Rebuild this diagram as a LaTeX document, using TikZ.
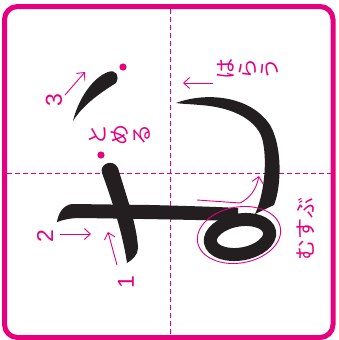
\documentclass[tikz,border=0pt]{standalone}
\usepackage{fontspec}
\setmainfont{Liberation Sans}
\newfontfamily\jpfont{Noto Sans CJK JP}
\usetikzlibrary{arrows.meta}
\definecolor{pk}{RGB}{230,0,126}
\definecolor{ink}{RGB}{35,31,32}
\begin{document}
\begin{tikzpicture}[x=1pt,y=-1pt,
  frame/.style={draw=pk,line width=5pt,rounded corners=13pt},
  guide/.style={draw=pk,line width=1pt,dash pattern=on 5pt off 3pt},
  brush/.style={fill=ink,draw=none},
  ring/.style={draw=ink,line width=13pt},
  hint/.style={draw=pk,line width=0.9pt},
  harrow/.style={hint,-{Straight Barb[length=6pt,width=11pt]}},
  num/.style={text=pk,font=\fontsize{23}{23}\selectfont,rotate=90,inner sep=0pt},
  jtext/.style={text=pk,font=\jpfont\fontsize{21}{22}\selectfont,rotate=90,inner sep=0pt,align=center},
  pdot/.style={fill=pk,draw=none}
]
\useasboundingbox (0,0) rectangle (338,340);
% frame
\draw[frame] (4.5,6.5) rectangle (333,337.5);
% guides
\coordinate (vt) at (170.5,9);
\coordinate (vb) at (170.5,335);
\coordinate (hl) at (7,173);
\coordinate (hr) at (331,173);
\draw[guide] (vt) -- (vb);
\draw[guide] (hl) -- (hr);
% stroke 3 (tick)
\fill[brush] (73,121) .. controls (78,100) and (92,78) .. (108,72)
  .. controls (116,69) and (120,76) .. (116,83)
  .. controls (105,90) and (84,103) .. cycle;
% stroke 1
\fill[brush] (127,263) .. controls (123,235) and (112,200) .. (102,173)
  .. controls (99,164) and (113,158) .. (118,168)
  .. controls (126,195) and (137,225) .. (138,248)
  .. controls (138,255) and (132,260) .. cycle;
% stroke 2 bar
\fill[brush] (57,222) .. controls (58,214) and (63,205) .. (72,204)
  -- (150,205) .. controls (190,206) and (220,207) .. (238,208)
  -- (238,221) .. controls (200,220) and (150,219) .. (80,218)
  .. controls (68,218) and (60,221) .. cycle;
% loop
\draw[ring, rotate around={10:(240,237)}] (240,237) ellipse [x radius=30, y radius=17];
% big curve
\fill[brush] (176,103) .. controls (205,92) and (250,95) .. (270,125)
  .. controls (282,145) and (282,185) .. (274,205)
  -- (255,214) .. controls (264,195) and (268,160) .. (262,138)
  .. controls (255,118) and (230,107) .. (200,105)
  .. controls (190,104) and (182,104) .. cycle;
% pink dots
\fill[pdot] (123,67) circle [radius=3.6];
\fill[pdot] (101,155) circle [radius=3.6];
% arrows
\coordinate (a1s) at (117,265); \coordinate (a1e) at (108,232);
\coordinate (a2s) at (60,234);  \coordinate (a2e) at (91,234);
\coordinate (a3s) at (65,95);   \coordinate (a3e) at (85,72);
\coordinate (a4s) at (213,83);  \coordinate (a4e) at (183,83);
\coordinate (a5s) at (197,200); \coordinate (a5m) at (240,203); \coordinate (a5e) at (259,176);
\draw[harrow] (a1s) -- (a1e);
\draw[harrow] (a2s) -- (a2e);
\draw[harrow] (a3s) -- (a3e);
\draw[harrow] (a4s) -- (a4e);
\draw[harrow] (a5s) -- (a5m) .. controls (250,198) and (256,190) .. (a5e);
% pink loop
\draw[hint, rotate around={10:(239,235)}] (239,235) ellipse [x radius=42, y radius=28];
% labels
\node[num] (n1) at (126,282) {1};
\node[num] (n2) at (45,236) {2};
\node[num] (n3) at (54,100) {3};
\node[jtext] (tomeru) at (120,135) {と\\め\\る};
\node[jtext] (harau) at (248,69) {は\\ら\\う};
\node[jtext] (musubu) at (306,229) {むすぶ};
\end{tikzpicture}
\end{document}
